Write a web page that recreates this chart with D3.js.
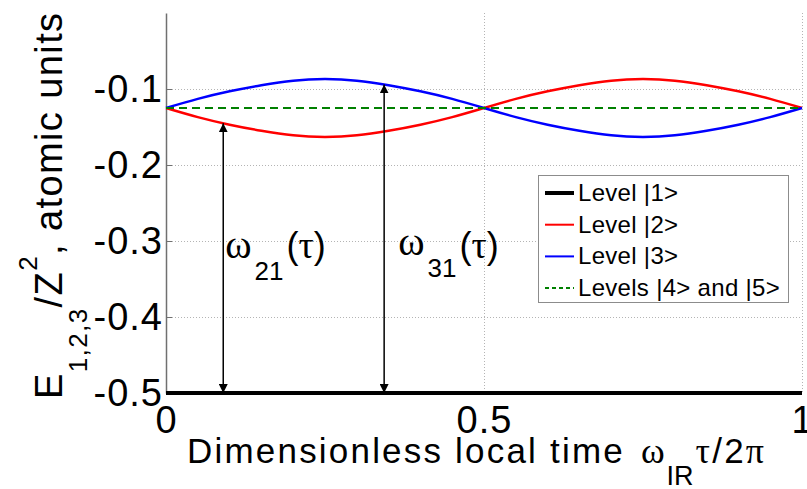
<!DOCTYPE html>
<html><head><meta charset="utf-8">
<script src="https://cdn.jsdelivr.net/npm/d3@7"></script>
<style>
body{margin:0;background:#fff}
svg{display:block}
.sans{font-family:"Liberation Sans",Arial,sans-serif}
.serif{font-family:"Liberation Serif","Times New Roman",serif}
</style>
</head><body>
<svg id="c" width="807" height="489"></svg>
<script>
// ---- data ----
const tau     = [0,0.05,0.1,0.15,0.2,0.25,0.3,0.35,0.4,0.45,0.5,0.55,0.6,0.65,0.7,0.75,0.8,0.85,0.9,0.95,1];
const level1  = [-0.5,-0.5,-0.5,-0.5,-0.5,-0.5,-0.5,-0.5,-0.5,-0.5,-0.5,-0.5,-0.5,-0.5,-0.5,-0.5,-0.5,-0.5,-0.5,-0.5,-0.5];
const level2  = [-0.125,-0.137,-0.147,-0.155,-0.161,-0.163,-0.161,-0.155,-0.147,-0.137,-0.125,-0.113,-0.103,-0.095,-0.089,-0.087,-0.089,-0.095,-0.103,-0.113,-0.125];
const level3  = [-0.125,-0.113,-0.103,-0.095,-0.089,-0.087,-0.089,-0.095,-0.103,-0.113,-0.125,-0.137,-0.147,-0.155,-0.161,-0.163,-0.161,-0.155,-0.147,-0.137,-0.125];
const level45 = [-0.125,-0.125,-0.125,-0.125,-0.125,-0.125,-0.125,-0.125,-0.125,-0.125,-0.125,-0.125,-0.125,-0.125,-0.125,-0.125,-0.125,-0.125,-0.125,-0.125,-0.125];
const xTicks = [0, 0.5, 1];
const yTicks = [-0.5, -0.4, -0.3, -0.2, -0.1];
const legendLabels = ["Level |1>", "Level |2>", "Level |3>", "Levels |4> and |5>"];
const arrowTau = [0.09, 0.343];
const arrowTop = [-0.145, -0.094];
const arrowBottom = -0.5;
const arrowSubs = ["21", "31"];

// ---- chart ----
const svg = d3.select("#c");
const x = d3.scaleLinear().domain([0, 1]).range([166, 802]);
const y = d3.scaleLinear().domain([-0.5, 0]).range([393, 13]);

// grid
const grid = svg.append("g").attr("stroke", "#b4b4b4").attr("stroke-width", 1).attr("stroke-dasharray", "1,2");
grid.selectAll("line.h").data(yTicks.filter(d => d > -0.5)).join("line")
  .attr("x1", x(0)).attr("x2", x(1)).attr("y1", d => y(d) + 0.5).attr("y2", d => y(d) + 0.5);
grid.selectAll("line.v").data(xTicks.filter(d => d > 0)).join("line")
  .attr("y1", y(0)).attr("y2", y(-0.5)).attr("x1", d => Math.round(x(d)) + 0.5).attr("x2", d => Math.round(x(d)) + 0.5);

// y axis
const yAxis = svg.append("g").attr("transform", `translate(${x(0)},0)`)
  .call(d3.axisLeft(y).tickValues(yTicks).tickFormat(d3.format(".1f")).tickSizeInner(-6).tickSizeOuter(0).tickPadding(3));
yAxis.select(".domain").attr("stroke", "#707070").attr("stroke-width", 1.5);
yAxis.selectAll(".tick line").attr("stroke", "#707070");
yAxis.selectAll("text").attr("class", "sans").attr("font-size", 38).attr("letter-spacing", 1).attr("fill", "#000")
  .text(d => d3.format(".1f")(d).replace("−", "-"));
yAxis.selectAll(".tick").filter(d => d === -0.5).select("line").remove();

// x axis labels
const xAxis = svg.append("g").attr("transform", `translate(0,${y(-0.5)})`)
  .call(d3.axisBottom(x).tickValues(xTicks).tickFormat(d => d === 0.5 ? "0.5" : String(d)).tickSize(0).tickPadding(13));
xAxis.select(".domain").remove();
xAxis.selectAll("text").attr("class", "sans").attr("font-size", 38).attr("letter-spacing", 1).attr("fill", "#000");

// lines
const line = (vals) => d3.line().x((d, i) => x(tau[i])).y(d => y(d)).curve(d3.curveNatural)(vals);
svg.append("path").attr("d", line(level2)).attr("fill", "none").attr("stroke", "#ff0000").attr("stroke-width", 2.5);
svg.append("path").attr("d", line(level3)).attr("fill", "none").attr("stroke", "#0000ff").attr("stroke-width", 2.5);
svg.append("path").attr("d", line(level45)).attr("fill", "none").attr("stroke", "#008000").attr("stroke-width", 2.2).attr("stroke-dasharray", "8,5");
svg.append("path").attr("d", line(level1)).attr("fill", "none").attr("stroke", "#000").attr("stroke-width", 4);

// arrows
const defs = svg.append("defs");
defs.append("marker").attr("id", "ah").attr("viewBox", "0 0 10 10").attr("refX", 10).attr("refY", 5)
  .attr("markerWidth", 9).attr("markerHeight", 9).attr("markerUnits", "userSpaceOnUse").attr("orient", "auto-start-reverse")
  .append("path").attr("d", "M0,0L10,5L0,10Z").attr("fill", "#000");
svg.selectAll("line.arrow").data(arrowTau).join("line").attr("class", "arrow")
  .attr("x1", d => x(d)).attr("x2", d => x(d))
  .attr("y1", y(arrowBottom)).attr("y2", (d, i) => y(arrowTop[i]))
  .attr("stroke", "#000").attr("stroke-width", 1.5)
  .attr("marker-start", "url(#ah)").attr("marker-end", "url(#ah)");

// arrow labels
const labelDx = [2, 14];
const lab = svg.selectAll("text.omega").data(arrowTau).join("text").attr("class", "omega")
  .attr("x", (d, i) => x(d) + labelDx[i]).attr("y", (d, i) => i === 0 ? 258 : 255);
lab.append("tspan").attr("class", "serif").attr("font-size", 40).text("ω");
lab.append("tspan").attr("class", "sans").attr("font-size", 26).attr("dx", 3).attr("dy", 22).text((d, i) => arrowSubs[i]);
lab.append("tspan").attr("class", "sans").attr("font-size", 36).attr("dx", 3).attr("dy", (d, i) => i === 0 ? -22 : -19).text("(");
lab.append("tspan").attr("class", "serif").attr("font-size", 38).text("τ");
lab.append("tspan").attr("class", "sans").attr("font-size", 36).text(")");

// legend
const lg = svg.append("g");
lg.append("rect").attr("x", 538.5).attr("y", 175.5).attr("width", 250).attr("height", 127)
  .attr("fill", "#fff").attr("stroke", "#8c8c8c").attr("stroke-width", 1);
const legendStyles = [
  {c: "#000", w: 4, dash: null},
  {c: "#ff0000", w: 2, dash: null},
  {c: "#0000ff", w: 2, dash: null},
  {c: "#008000", w: 2, dash: "4,3"}
];
const rows = lg.selectAll("g.row").data(legendLabels).join("g").attr("class", "row")
  .attr("transform", (d, i) => `translate(0,${193 + i * 31.7})`);
rows.append("line").attr("x1", 545).attr("x2", 574).attr("y1", 0).attr("y2", 0)
  .attr("stroke", (d, i) => legendStyles[i].c).attr("stroke-width", (d, i) => legendStyles[i].w)
  .attr("stroke-dasharray", (d, i) => legendStyles[i].dash);
rows.append("text").attr("class", "sans").attr("x", 578).attr("y", 8).attr("font-size", 24).attr("letter-spacing", 0.3).text(d => d);

// y label
const yl = svg.append("text").attr("class", "sans").attr("font-size", 38).attr("letter-spacing", 1.4)
  .attr("transform", "translate(62,399) rotate(-90)");
yl.append("tspan").text("E");
yl.append("tspan").attr("font-size", 26).attr("dy", 25).text("1,2,3");
yl.append("tspan").attr("dy", -25).text("/Z");
yl.append("tspan").attr("font-size", 26).attr("dy", -25).text("2");
yl.append("tspan").attr("dy", 25).text(", atomic units");

// x label
const xl = svg.append("text").attr("class", "sans").attr("x", 187).attr("y", 463).attr("font-size", 35).attr("letter-spacing", 2.2);
xl.append("tspan").text("Dimensionless local time ");
xl.append("tspan").attr("class", "serif").attr("font-size", 36).attr("letter-spacing", 0).attr("dx", 4).text("ω");
xl.append("tspan").attr("font-size", 27).attr("letter-spacing", 0).attr("dy", 22).attr("dx", 2).text("IR");
xl.append("tspan").attr("class", "serif").attr("font-size", 36).attr("dy", -22).attr("dx", 2).text("τ");
xl.append("tspan").text("/2");
xl.append("tspan").attr("class", "serif").attr("font-size", 36).text("π");
</script>
</body></html>
